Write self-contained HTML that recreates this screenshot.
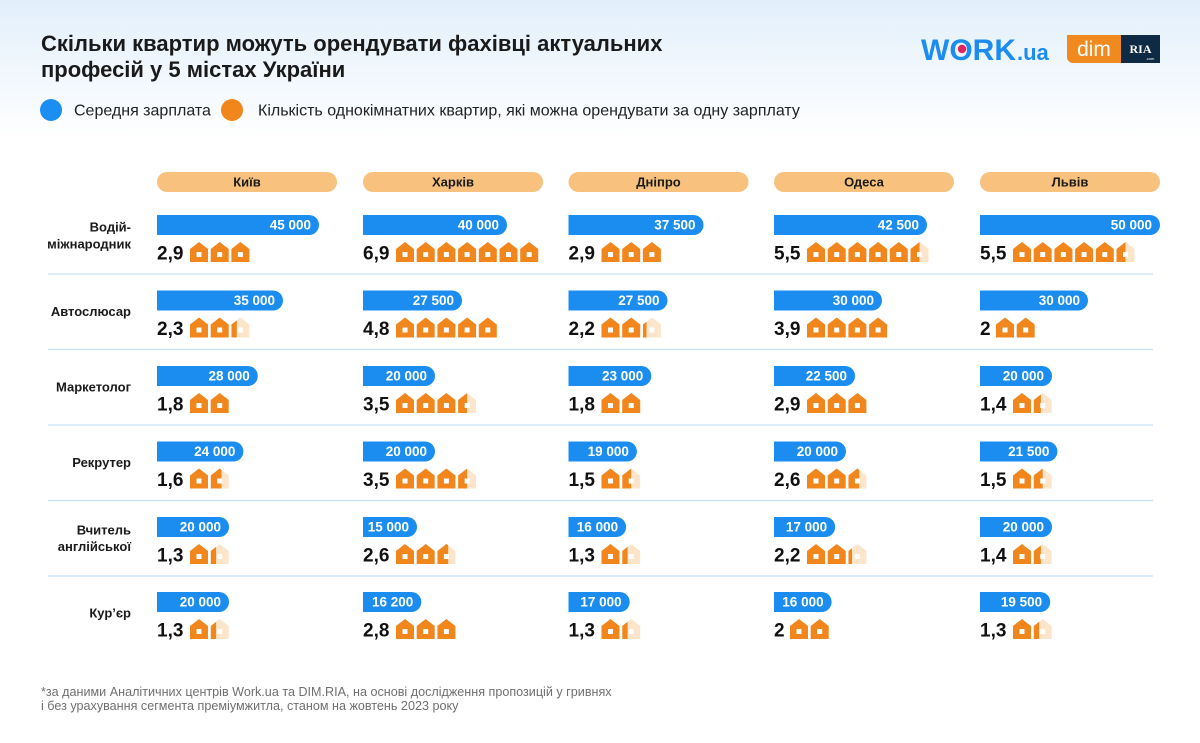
<!DOCTYPE html>
<html lang="uk">
<head>
<meta charset="utf-8">
<style>
html,body{margin:0;padding:0;background:#fff;}
body{width:1200px;height:743px;overflow:hidden;}
svg{display:block;font-family:"Liberation Sans","DejaVu Sans",sans-serif;}
.lbl{font-size:13px;font-weight:bold;fill:#1a1a1a;text-anchor:end;}
.pill{font-size:13px;font-weight:bold;fill:#1a1a1a;text-anchor:middle;}
.val{font-size:13.5px;font-weight:bold;fill:#fff;text-anchor:end;}
.num{font-size:19px;font-weight:bold;fill:#111;}
</style>
</head>
<body>
<svg width="1200" height="743" viewBox="0 0 1200 743" xmlns="http://www.w3.org/2000/svg">
<defs>
<linearGradient id="bg" x1="0" y1="0" x2="0" y2="1">
<stop offset="0" stop-color="#e2effb"/>
<stop offset="1" stop-color="#ffffff"/>
</linearGradient>
<path id="h" fill-rule="evenodd" d="M0 7 L9 0 L18 7 V20 H0 Z M6.5 10 h5 v5 h-5 Z"/>
</defs>
<rect x="0" y="0" width="1200" height="743" fill="#fff"/>
<rect x="0" y="0" width="1200" height="140" fill="url(#bg)"/>

<!-- Title -->
<text x="41" y="51" font-size="22" font-weight="bold" fill="#1a1a1a">Скільки квартир можуть орендувати фахівці актуальних</text>
<text x="41" y="77" font-size="22" font-weight="bold" fill="#1a1a1a">професій у 5 містах України</text>

<!-- Legend -->
<circle cx="51" cy="110" r="11" fill="#1b8ef2"/>
<text x="74" y="115.5" font-size="16" fill="#222">Середня зарплата</text>
<circle cx="232" cy="110" r="11" fill="#f0861c"/>
<text x="258" y="115.5" font-size="16" fill="#222">Кількість однокімнатних квартир, які можна орендувати за одну зарплату</text>

<!-- Logos -->
<text x="921" y="60" font-size="30" font-weight="bold" fill="#1d8cf0">WORK</text>
<circle cx="962" cy="49" r="4.2" fill="#e0245e"/>
<text x="1017" y="60" font-size="22" font-weight="bold" fill="#1d8cf0">.ua</text>
<path d="M1067 35 H1121 V63 H1073 A6 6 0 0 1 1067 57 Z" fill="#f08a1f"/>
<text x="1094" y="56" font-size="21" fill="#fff" text-anchor="middle">dim</text>
<rect x="1121" y="35" width="39" height="28" fill="#0f2a44"/>
<text x="1140.5" y="53" font-size="12" font-weight="bold" fill="#fff" text-anchor="middle" font-family="Liberation Serif, serif">RIA</text>
<text x="1150" y="60" font-size="4" fill="#fff" text-anchor="middle">.com</text>

<!-- City pills -->
<g fill="#f8c27e">
<rect x="157" y="172" width="180" height="20" rx="10"/>
<rect x="363" y="172" width="180" height="20" rx="10"/>
<rect x="568.5" y="172" width="180" height="20" rx="10"/>
<rect x="774" y="172" width="180" height="20" rx="10"/>
<rect x="980" y="172" width="180" height="20" rx="10"/>
</g>
<text class="pill" x="247" y="186.5">Київ</text>
<text class="pill" x="453" y="186.5">Харків</text>
<text class="pill" x="658.5" y="186.5">Дніпро</text>
<text class="pill" x="864" y="186.5">Одеса</text>
<text class="pill" x="1070" y="186.5">Львів</text>

<!-- Separators -->
<g stroke="#c5e0f6" stroke-width="1.3">
<line x1="48" y1="274" x2="1153" y2="274"/>
<line x1="48" y1="349.5" x2="1153" y2="349.5"/>
<line x1="48" y1="425" x2="1153" y2="425"/>
<line x1="48" y1="500.5" x2="1153" y2="500.5"/>
<line x1="48" y1="576" x2="1153" y2="576"/>
</g>

<!-- Row labels -->
<text class="lbl" x="131" y="231.5">Водій-</text>
<text class="lbl" x="131" y="248.5">міжнародник</text>
<text class="lbl" x="131" y="316.2">Автослюсар</text>
<text class="lbl" x="131" y="391.7">Маркетолог</text>
<text class="lbl" x="131" y="467.2">Рекрутер</text>
<text class="lbl" x="131" y="534.5">Вчитель</text>
<text class="lbl" x="131" y="551">англійської</text>
<text class="lbl" x="131" y="617.7">Кур’єр</text>

<!-- ROW 0 T=215 -->
<g transform="translate(157,215)">
<path d="M0 0 H152 A10 10 0 0 1 152 20 H0 Z" fill="#1b8df0"/>
<text class="val" x="154" y="14.5">45 000</text>
<text class="num" x="0" y="44.5">2,9</text>
<g transform="translate(33,27)" fill="#f0861c"><use href="#h" x="0"/><use href="#h" x="20.7"/><use href="#h" x="41.4"/></g>
</g>
<g transform="translate(363,215)">
<path d="M0 0 H134 A10 10 0 0 1 134 20 H0 Z" fill="#1b8df0"/>
<text class="val" x="136" y="14.5">40 000</text>
<text class="num" x="0" y="44.5">6,9</text>
<g transform="translate(33,27)" fill="#f0861c"><use href="#h" x="0"/><use href="#h" x="20.7"/><use href="#h" x="41.4"/><use href="#h" x="62.1"/><use href="#h" x="82.8"/><use href="#h" x="103.5"/><use href="#h" x="124.2"/></g>
</g>
<g transform="translate(568.5,215)">
<path d="M0 0 H125 A10 10 0 0 1 125 20 H0 Z" fill="#1b8df0"/>
<text class="val" x="127" y="14.5">37 500</text>
<text class="num" x="0" y="44.5">2,9</text>
<g transform="translate(33,27)" fill="#f0861c"><use href="#h" x="0"/><use href="#h" x="20.7"/><use href="#h" x="41.4"/></g>
</g>
<g transform="translate(774,215)">
<path d="M0 0 H143 A10 10 0 0 1 143 20 H0 Z" fill="#1b8df0"/>
<text class="val" x="145" y="14.5">42 500</text>
<text class="num" x="0" y="44.5">5,5</text>
<g transform="translate(33,27)" fill="#f0861c"><use href="#h" x="0"/><use href="#h" x="20.7"/><use href="#h" x="41.4"/><use href="#h" x="62.1"/><use href="#h" x="82.8"/><use href="#h" x="103.5" fill="#fde5cb"/><svg x="103.5" y="0" width="9" height="20"><use href="#h"/></svg></g>
</g>
<g transform="translate(980,215)">
<path d="M0 0 H170 A10 10 0 0 1 170 20 H0 Z" fill="#1b8df0"/>
<text class="val" x="172" y="14.5">50 000</text>
<text class="num" x="0" y="44.5">5,5</text>
<g transform="translate(33,27)" fill="#f0861c"><use href="#h" x="0"/><use href="#h" x="20.7"/><use href="#h" x="41.4"/><use href="#h" x="62.1"/><use href="#h" x="82.8"/><use href="#h" x="103.5" fill="#fde5cb"/><svg x="103.5" y="0" width="9" height="20"><use href="#h"/></svg></g>
</g>

<!-- ROW 1 T=290.5 -->
<g transform="translate(157,290.5)">
<path d="M0 0 H116 A10 10 0 0 1 116 20 H0 Z" fill="#1b8df0"/>
<text class="val" x="118" y="14.5">35 000</text>
<text class="num" x="0" y="44.5">2,3</text>
<g transform="translate(33,27)" fill="#f0861c"><use href="#h" x="0"/><use href="#h" x="20.7"/><use href="#h" x="41.4" fill="#fde5cb"/><svg x="41.4" y="0" width="5.4" height="20"><use href="#h"/></svg></g>
</g>
<g transform="translate(363,290.5)">
<path d="M0 0 H89 A10 10 0 0 1 89 20 H0 Z" fill="#1b8df0"/>
<text class="val" x="91" y="14.5">27 500</text>
<text class="num" x="0" y="44.5">4,8</text>
<g transform="translate(33,27)" fill="#f0861c"><use href="#h" x="0"/><use href="#h" x="20.7"/><use href="#h" x="41.4"/><use href="#h" x="62.1"/><use href="#h" x="82.8"/></g>
</g>
<g transform="translate(568.5,290.5)">
<path d="M0 0 H89 A10 10 0 0 1 89 20 H0 Z" fill="#1b8df0"/>
<text class="val" x="91" y="14.5">27 500</text>
<text class="num" x="0" y="44.5">2,2</text>
<g transform="translate(33,27)" fill="#f0861c"><use href="#h" x="0"/><use href="#h" x="20.7"/><use href="#h" x="41.4" fill="#fde5cb"/><svg x="41.4" y="0" width="3.6" height="20"><use href="#h"/></svg></g>
</g>
<g transform="translate(774,290.5)">
<path d="M0 0 H98 A10 10 0 0 1 98 20 H0 Z" fill="#1b8df0"/>
<text class="val" x="100" y="14.5">30 000</text>
<text class="num" x="0" y="44.5">3,9</text>
<g transform="translate(33,27)" fill="#f0861c"><use href="#h" x="0"/><use href="#h" x="20.7"/><use href="#h" x="41.4"/><use href="#h" x="62.1"/></g>
</g>
<g transform="translate(980,290.5)">
<path d="M0 0 H98 A10 10 0 0 1 98 20 H0 Z" fill="#1b8df0"/>
<text class="val" x="100" y="14.5">30 000</text>
<text class="num" x="0" y="44.5">2</text>
<g transform="translate(16,27)" fill="#f0861c"><use href="#h" x="0"/><use href="#h" x="20.7"/></g>
</g>

<!-- ROW 2 T=366 -->
<g transform="translate(157,366)">
<path d="M0 0 H90.8 A10 10 0 0 1 90.8 20 H0 Z" fill="#1b8df0"/>
<text class="val" x="92.8" y="14.5">28 000</text>
<text class="num" x="0" y="44.5">1,8</text>
<g transform="translate(33,27)" fill="#f0861c"><use href="#h" x="0"/><use href="#h" x="20.7"/></g>
</g>
<g transform="translate(363,366)">
<path d="M0 0 H62 A10 10 0 0 1 62 20 H0 Z" fill="#1b8df0"/>
<text class="val" x="64" y="14.5">20 000</text>
<text class="num" x="0" y="44.5">3,5</text>
<g transform="translate(33,27)" fill="#f0861c"><use href="#h" x="0"/><use href="#h" x="20.7"/><use href="#h" x="41.4"/><use href="#h" x="62.1" fill="#fde5cb"/><svg x="62.1" y="0" width="9" height="20"><use href="#h"/></svg></g>
</g>
<g transform="translate(568.5,366)">
<path d="M0 0 H72.8 A10 10 0 0 1 72.8 20 H0 Z" fill="#1b8df0"/>
<text class="val" x="74.8" y="14.5">23 000</text>
<text class="num" x="0" y="44.5">1,8</text>
<g transform="translate(33,27)" fill="#f0861c"><use href="#h" x="0"/><use href="#h" x="20.7"/></g>
</g>
<g transform="translate(774,366)">
<path d="M0 0 H71 A10 10 0 0 1 71 20 H0 Z" fill="#1b8df0"/>
<text class="val" x="73" y="14.5">22 500</text>
<text class="num" x="0" y="44.5">2,9</text>
<g transform="translate(33,27)" fill="#f0861c"><use href="#h" x="0"/><use href="#h" x="20.7"/><use href="#h" x="41.4"/></g>
</g>
<g transform="translate(980,366)">
<path d="M0 0 H62 A10 10 0 0 1 62 20 H0 Z" fill="#1b8df0"/>
<text class="val" x="64" y="14.5">20 000</text>
<text class="num" x="0" y="44.5">1,4</text>
<g transform="translate(33,27)" fill="#f0861c"><use href="#h" x="0"/><use href="#h" x="20.7" fill="#fde5cb"/><svg x="20.7" y="0" width="7.2" height="20"><use href="#h"/></svg></g>
</g>

<!-- ROW 3 T=441.5 -->
<g transform="translate(157,441.5)">
<path d="M0 0 H76.4 A10 10 0 0 1 76.4 20 H0 Z" fill="#1b8df0"/>
<text class="val" x="78.4" y="14.5">24 000</text>
<text class="num" x="0" y="44.5">1,6</text>
<g transform="translate(33,27)" fill="#f0861c"><use href="#h" x="0"/><use href="#h" x="20.7" fill="#fde5cb"/><svg x="20.7" y="0" width="10.8" height="20"><use href="#h"/></svg></g>
</g>
<g transform="translate(363,441.5)">
<path d="M0 0 H62 A10 10 0 0 1 62 20 H0 Z" fill="#1b8df0"/>
<text class="val" x="64" y="14.5">20 000</text>
<text class="num" x="0" y="44.5">3,5</text>
<g transform="translate(33,27)" fill="#f0861c"><use href="#h" x="0"/><use href="#h" x="20.7"/><use href="#h" x="41.4"/><use href="#h" x="62.1" fill="#fde5cb"/><svg x="62.1" y="0" width="9" height="20"><use href="#h"/></svg></g>
</g>
<g transform="translate(568.5,441.5)">
<path d="M0 0 H58.4 A10 10 0 0 1 58.4 20 H0 Z" fill="#1b8df0"/>
<text class="val" x="60.4" y="14.5">19 000</text>
<text class="num" x="0" y="44.5">1,5</text>
<g transform="translate(33,27)" fill="#f0861c"><use href="#h" x="0"/><use href="#h" x="20.7" fill="#fde5cb"/><svg x="20.7" y="0" width="9" height="20"><use href="#h"/></svg></g>
</g>
<g transform="translate(774,441.5)">
<path d="M0 0 H62 A10 10 0 0 1 62 20 H0 Z" fill="#1b8df0"/>
<text class="val" x="64" y="14.5">20 000</text>
<text class="num" x="0" y="44.5">2,6</text>
<g transform="translate(33,27)" fill="#f0861c"><use href="#h" x="0"/><use href="#h" x="20.7"/><use href="#h" x="41.4" fill="#fde5cb"/><svg x="41.4" y="0" width="10.8" height="20"><use href="#h"/></svg></g>
</g>
<g transform="translate(980,441.5)">
<path d="M0 0 H67.4 A10 10 0 0 1 67.4 20 H0 Z" fill="#1b8df0"/>
<text class="val" x="69.4" y="14.5">21 500</text>
<text class="num" x="0" y="44.5">1,5</text>
<g transform="translate(33,27)" fill="#f0861c"><use href="#h" x="0"/><use href="#h" x="20.7" fill="#fde5cb"/><svg x="20.7" y="0" width="9" height="20"><use href="#h"/></svg></g>
</g>

<!-- ROW 4 T=517 -->
<g transform="translate(157,517)">
<path d="M0 0 H62 A10 10 0 0 1 62 20 H0 Z" fill="#1b8df0"/>
<text class="val" x="64" y="14.5">20 000</text>
<text class="num" x="0" y="44.5">1,3</text>
<g transform="translate(33,27)" fill="#f0861c"><use href="#h" x="0"/><use href="#h" x="20.7" fill="#fde5cb"/><svg x="20.7" y="0" width="5.4" height="20"><use href="#h"/></svg></g>
</g>
<g transform="translate(363,517)">
<path d="M0 0 H44 A10 10 0 0 1 44 20 H0 Z" fill="#1b8df0"/>
<text class="val" x="46" y="14.5">15 000</text>
<text class="num" x="0" y="44.5">2,6</text>
<g transform="translate(33,27)" fill="#f0861c"><use href="#h" x="0"/><use href="#h" x="20.7"/><use href="#h" x="41.4" fill="#fde5cb"/><svg x="41.4" y="0" width="10.8" height="20"><use href="#h"/></svg></g>
</g>
<g transform="translate(568.5,517)">
<path d="M0 0 H47.6 A10 10 0 0 1 47.6 20 H0 Z" fill="#1b8df0"/>
<text class="val" x="49.6" y="14.5">16 000</text>
<text class="num" x="0" y="44.5">1,3</text>
<g transform="translate(33,27)" fill="#f0861c"><use href="#h" x="0"/><use href="#h" x="20.7" fill="#fde5cb"/><svg x="20.7" y="0" width="5.4" height="20"><use href="#h"/></svg></g>
</g>
<g transform="translate(774,517)">
<path d="M0 0 H51.2 A10 10 0 0 1 51.2 20 H0 Z" fill="#1b8df0"/>
<text class="val" x="53.2" y="14.5">17 000</text>
<text class="num" x="0" y="44.5">2,2</text>
<g transform="translate(33,27)" fill="#f0861c"><use href="#h" x="0"/><use href="#h" x="20.7"/><use href="#h" x="41.4" fill="#fde5cb"/><svg x="41.4" y="0" width="3.6" height="20"><use href="#h"/></svg></g>
</g>
<g transform="translate(980,517)">
<path d="M0 0 H62 A10 10 0 0 1 62 20 H0 Z" fill="#1b8df0"/>
<text class="val" x="64" y="14.5">20 000</text>
<text class="num" x="0" y="44.5">1,4</text>
<g transform="translate(33,27)" fill="#f0861c"><use href="#h" x="0"/><use href="#h" x="20.7" fill="#fde5cb"/><svg x="20.7" y="0" width="7.2" height="20"><use href="#h"/></svg></g>
</g>

<!-- ROW 5 T=592 -->
<g transform="translate(157,592)">
<path d="M0 0 H62 A10 10 0 0 1 62 20 H0 Z" fill="#1b8df0"/>
<text class="val" x="64" y="14.5">20 000</text>
<text class="num" x="0" y="44.5">1,3</text>
<g transform="translate(33,27)" fill="#f0861c"><use href="#h" x="0"/><use href="#h" x="20.7" fill="#fde5cb"/><svg x="20.7" y="0" width="5.4" height="20"><use href="#h"/></svg></g>
</g>
<g transform="translate(363,592)">
<path d="M0 0 H48.3 A10 10 0 0 1 48.3 20 H0 Z" fill="#1b8df0"/>
<text class="val" x="50.3" y="14.5">16 200</text>
<text class="num" x="0" y="44.5">2,8</text>
<g transform="translate(33,27)" fill="#f0861c"><use href="#h" x="0"/><use href="#h" x="20.7"/><use href="#h" x="41.4"/></g>
</g>
<g transform="translate(568.5,592)">
<path d="M0 0 H51.2 A10 10 0 0 1 51.2 20 H0 Z" fill="#1b8df0"/>
<text class="val" x="53.2" y="14.5">17 000</text>
<text class="num" x="0" y="44.5">1,3</text>
<g transform="translate(33,27)" fill="#f0861c"><use href="#h" x="0"/><use href="#h" x="20.7" fill="#fde5cb"/><svg x="20.7" y="0" width="5.4" height="20"><use href="#h"/></svg></g>
</g>
<g transform="translate(774,592)">
<path d="M0 0 H47.6 A10 10 0 0 1 47.6 20 H0 Z" fill="#1b8df0"/>
<text class="val" x="49.6" y="14.5">16 000</text>
<text class="num" x="0" y="44.5">2</text>
<g transform="translate(16,27)" fill="#f0861c"><use href="#h" x="0"/><use href="#h" x="20.7"/></g>
</g>
<g transform="translate(980,592)">
<path d="M0 0 H60.2 A10 10 0 0 1 60.2 20 H0 Z" fill="#1b8df0"/>
<text class="val" x="62.2" y="14.5">19 500</text>
<text class="num" x="0" y="44.5">1,3</text>
<g transform="translate(33,27)" fill="#f0861c"><use href="#h" x="0"/><use href="#h" x="20.7" fill="#fde5cb"/><svg x="20.7" y="0" width="5.4" height="20"><use href="#h"/></svg></g>
</g>

<!-- Footnote -->
<text x="41" y="696" font-size="12.6" fill="#6f6f6f">*за даними Аналітичних центрів Work.ua та DIM.RIA, на основі дослідження пропозицій у гривнях</text>
<text x="41" y="710" font-size="12.6" fill="#6f6f6f">і без урахування сегмента преміумжитла, станом на жовтень 2023 року</text>
</svg>
</body>
</html>
